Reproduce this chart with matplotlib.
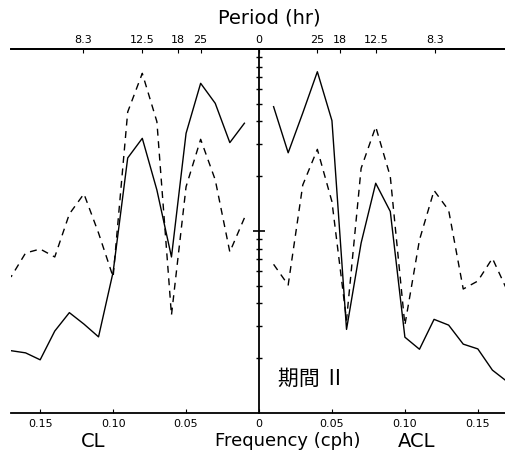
import numpy as np
import matplotlib.pyplot as plt
from matplotlib.ticker import FixedLocator, LogLocator, NullFormatter

# rotary spectrum, period II
freq = [0.01, 0.02, 0.03, 0.04, 0.05, 0.06, 0.07, 0.08, 0.09,
        0.10, 0.11, 0.12, 0.13, 0.14, 0.15, 0.16, 0.17]

cl_solid = [39.1, 30.6, 50.3, 64.8, 34.4, 7.2, 16.8, 32.3, 25.2,
            5.95, 2.62, 3.08, 3.56, 2.82, 1.96, 2.14, 2.20]
cl_dashed = [11.8, 7.67, 19.1, 31.9, 17.5, 3.45, 39.9, 73.5, 45.1,
             5.59, 9.75, 16.0, 12.4, 7.2, 7.96, 7.57, 5.59]

acl_solid = [48.2, 26.9, 44.5, 75.0, 40.4, 2.88, 8.59, 18.3, 12.8,
             2.61, 2.24, 3.27, 3.04, 2.39, 2.25, 1.72, 1.49]
acl_dashed = [6.56, 5.05, 17.9, 28.1, 14.5, 3.24, 22.1, 37.4, 19.9,
              3.04, 8.93, 16.7, 13.0, 4.80, 5.31, 7.08, 4.74]

periods = [25, 18, 12.5, 8.3]
period_labels = ["25", "18", "12.5", "8.3"]
freq_ticks = [0.05, 0.10, 0.15]
freq_labels = ["0.05", "0.10", "0.15"]

W, H = 506, 461
fig = plt.figure(figsize=(W / 100, H / 100), dpi=100)
ax = fig.add_axes([11 / W, 1 - 413 / H, 496 / W, 364 / H])

f = np.array(freq)
ax.plot(-f, cl_solid, color='black', lw=1.0)
ax.plot(-f, cl_dashed, color='black', lw=1.0, dashes=(5, 4))
ax.plot(f, acl_solid, color='black', lw=1.0)
ax.plot(f, acl_dashed, color='black', lw=1.0, dashes=(5, 4))

ax.set_yscale('log')
ax.set_ylim(1, 100)
ax.set_xlim(-0.17, 0.17)

# centre axis carries the log ticks
ax.spines['right'].set_visible(False)
ax.spines['left'].set_position(('data', 0))
ax.spines['left'].set_linewidth(1.3)
ax.spines['top'].set_linewidth(1.3)
ax.spines['bottom'].set_linewidth(1.3)
ax.yaxis.set_major_locator(FixedLocator([10]))
ax.yaxis.set_minor_locator(LogLocator(subs=np.arange(2, 10)))
ax.yaxis.set_major_formatter(NullFormatter())
ax.yaxis.set_minor_formatter(NullFormatter())
ax.tick_params(axis='y', which='major', direction='inout', length=9, width=1.2)
ax.tick_params(axis='y', which='minor', direction='inout', length=5, width=1.0)

bx = [-v for v in freq_ticks[::-1]] + [0] + freq_ticks
bl = freq_labels[::-1] + ["0"] + freq_labels
ax.set_xticks(bx, bl)
ax.tick_params(axis='x', direction='in', length=3, labelsize=8, pad=4, top=False)

top = ax.secondary_xaxis('top')
tx = [-1 / p for p in periods[::-1]] + [0] + [1 / p for p in periods]
tl = period_labels[::-1] + ["0"] + period_labels
top.set_xticks(tx, tl)
top.tick_params(direction='in', length=3, labelsize=8, pad=3)
top.spines['top'].set_linewidth(1.3)

fig.text(269 / W, 1 - 18 / H, "Period (hr)", fontsize=14, ha='center', va='center')
fig.text(288 / W, 1 - 441 / H, "Frequency (cph)", fontsize=13, ha='center', va='center')
fig.text(93 / W, 1 - 441 / H, "CL", fontsize=14, ha='center', va='center')
fig.text(417 / W, 1 - 441 / H, "ACL", fontsize=14, ha='center', va='center')
fig.text(278 / W, 1 - 379 / H, "期間 Ⅱ", fontsize=15, ha='left', va='center',
         family=['Noto Sans CJK JP', 'DejaVu Sans'])

fig.savefig('out.png', dpi=100)
